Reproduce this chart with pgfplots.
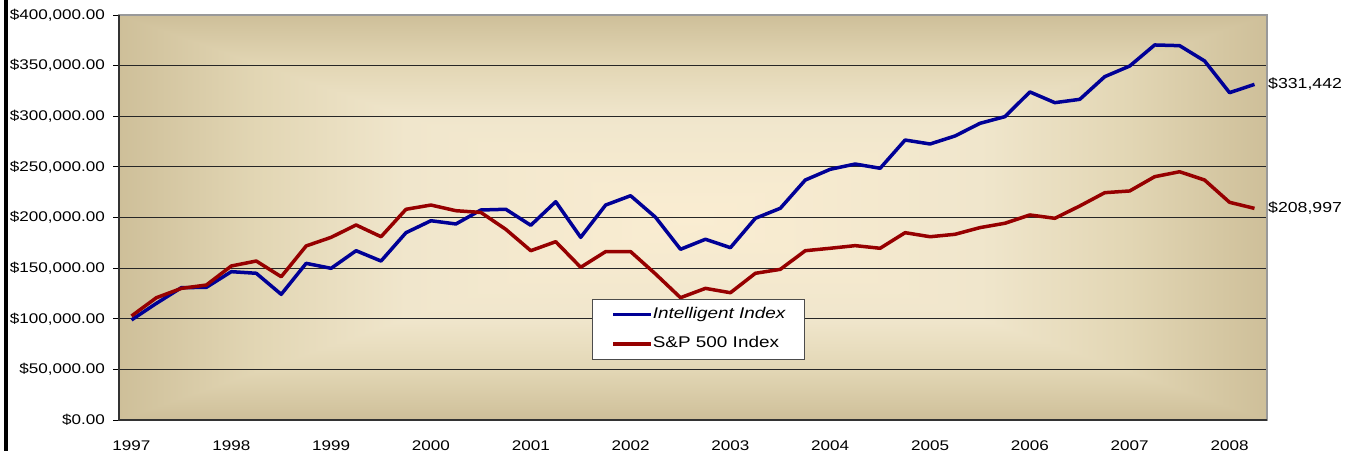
\documentclass[border=0pt]{standalone}
\usepackage{fontspec}
\setmainfont{Liberation Sans}[FakeStretch=1.22]
\usepackage{pgfplots}
\pgfplotsset{compat=1.18}
\definecolor{bgdark}{RGB}{206,191,153}
\definecolor{bgmid}{RGB}{226,214,180}
\definecolor{bglite}{RGB}{240,230,204}
\definecolor{bgcent}{RGB}{250,237,210}
\definecolor{intblue}{RGB}{0,0,150}
\definecolor{spred}{RGB}{150,0,0}
\pgfdeclarehorizontalshading{shH}{100bp}{color(0bp)=(bgdark); color(25bp)=(bgdark); color(31bp)=(bgmid); color(37.5bp)=(bglite); color(50bp)=(bgcent); color(62.5bp)=(bglite); color(69bp)=(bgmid); color(75bp)=(bgdark); color(100bp)=(bgdark)}
\pgfdeclareverticalshading{shB}{100bp}{color(0bp)=(bgdark); color(25bp)=(bgdark); color(37bp)=(bgmid); color(50bp)=(bglite); color(75bp)=(bgcent); color(100bp)=(bgcent)}
\pgfdeclareverticalshading{shT}{100bp}{color(0bp)=(bgcent); color(25bp)=(bgcent); color(50bp)=(bglite); color(63bp)=(bgmid); color(75bp)=(bgdark); color(100bp)=(bgdark)}

\pgfplotstableread{
x y
0 98800
1 115200
2 130700
3 131000
4 146500
5 144900
6 124100
7 154700
8 149800
9 167200
10 157000
11 185000
12 196800
13 193600
14 207400
15 208100
16 192300
17 215600
18 180400
19 212300
20 221500
21 200200
22 168600
23 178500
24 170200
25 199200
26 209100
27 237000
28 247600
29 252800
30 248600
31 276500
32 272600
33 280500
34 293000
35 299600
36 324000
37 313400
38 316700
39 339100
40 349600
41 370400
42 369700
43 354600
44 323300
45 331442
}\intelligent

\pgfplotstableread{
x y
0 102700
1 120800
2 130000
3 133300
4 152100
5 157000
6 141500
7 171900
8 180400
9 192600
10 181000
11 208100
12 212300
13 206700
14 205000
15 188300
16 167200
17 176100
18 150800
19 166300
20 166300
21 144200
22 120800
23 130000
24 125700
25 144900
26 148800
27 167200
28 169600
29 172200
30 169600
31 185000
32 181000
33 183400
34 190000
35 194300
36 202500
37 199200
38 211400
39 224500
40 226200
41 240300
42 245200
43 237000
44 215000
45 208997
}\spindex

\begin{document}
\begin{tikzpicture}[x=1bp,y=1bp]
\path[use as bounding box] (0,0) rectangle (1347,451);
\fill[black] (4,0) rectangle (8,451);
\coordinate (C) at (693,233.5);
\shade[shading=shH] (119,31) rectangle (1267,436);
\shade[shading=shT] (119,436) -- (1267,436) -- (C) -- cycle;
\shade[shading=shB] (119,31) -- (1267,31) -- (C) -- cycle;
\begin{axis}[
  at={(119bp,31bp)}, anchor=south west,
  scale only axis, width=1148bp, height=405bp,
  xmin=-0.5, xmax=45.5, ymin=0, ymax=400000,
  clip=false,
  axis line style={draw=black!40, line width=1.2bp},
  ymajorgrids, major grid style={black!85, line width=0.9bp},
  ytick={0,50000,...,400000},
  scaled y ticks=false,
  yticklabels={{\$0.00},{\$50,000.00},{\$100,000.00},{\$150,000.00},{\$200,000.00},{\$250,000.00},{\$300,000.00},{\$350,000.00},{\$400,000.00}},
  xtick={0,4,...,44},
  xticklabels={1997,1998,1999,2000,2001,2002,2003,2004,2005,2006,2007,2008},
  ytick pos=left, tick align=outside, major tick length=6bp,
  ytick style={black, line width=0.9bp},
  xtick style={draw=none},
  /pgf/number format/assume math mode=true,
  ticklabel style={font=\fontsize{14bp}{16bp}\selectfont, inner sep=0pt},
  yticklabel style={anchor=east, xshift=-8bp},
  xticklabel style={anchor=north, yshift=-14.5bp, text depth=0pt},
  legend style={at={(rel axis cs:0.412,0.299)}, anchor=north west,
    draw=black!70, fill=white, line width=0.8bp,
    font=\fontsize{15.5bp}{18bp}\selectfont,
    inner xsep=19bp, inner ysep=8bp, row sep=15bp,
    nodes={inner sep=0pt, text height=11bp, text depth=3.5bp},
    /tikz/every even column/.append style={column sep=4bp}},
  legend cell align=left,
  legend image code/.code={\draw[#1, line width=3.5bp] (0bp,0bp) -- (38bp,0bp);},
]
\addplot[intblue, line width=3.5bp, line join=round] table[x=x,y=y] {\intelligent};
\addlegendentry{\textit{Intelligent Index}}
\addplot[spred, line width=3.5bp, line join=round] table[x=x,y=y] {\spindex};
\addlegendentry{S\&P 500 Index}
\draw[black!80, line width=1.3bp] (rel axis cs:0,1) -- (rel axis cs:0,0) -- (rel axis cs:1,0);
\node[anchor=west, inner sep=0pt, xshift=1bp, font=\fontsize{14.5bp}{16bp}\selectfont] at (axis cs:45.5,331442) {\$331,442};
\node[anchor=west, inner sep=0pt, xshift=1bp, font=\fontsize{14.5bp}{16bp}\selectfont] at (axis cs:45.5,208997) {\$208,997};
\end{axis}
\end{tikzpicture}
\end{document}
